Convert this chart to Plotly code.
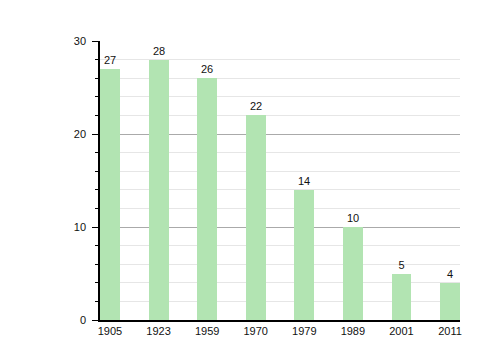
import plotly.graph_objects as go

years = ["1905", "1923", "1959", "1970", "1979", "1989", "2001", "2011"]
values = [27, 28, 26, 22, 14, 10, 5, 4]

bar_color = "#b2e4b2"
font = "Liberation Sans, Arial, sans-serif"

fig = go.Figure()
fig.add_trace(go.Bar(
    x=list(range(len(years))),
    y=values,
    width=0.41,
    marker=dict(color=bar_color, line=dict(width=0)),
    text=[str(v) for v in values],
    textposition="outside",
    textfont=dict(family=font, size=11, color="#111111"),
    cliponaxis=False,
))

fig.update_layout(
    width=500, height=360,
    margin=dict(l=92, r=48, t=33, b=48),
    paper_bgcolor="white", plot_bgcolor="white",
    showlegend=False,
    font=dict(family=font, size=11, color="#222222"),
    xaxis=dict(
        tickmode="array",
        tickvals=list(range(len(years))),
        ticktext=years,
        range=[-0.205, 7.205],
        showline=True, linecolor="black", linewidth=1.5,
        showgrid=False, ticks="", zeroline=False,
        ticklabelstandoff=0,
        tickfont=dict(family=font, size=11, color="#111111"),
    ),
    yaxis=dict(
        range=[0, 30],
        tickvals=[0, 10, 20, 30],
        showline=True, linecolor="black", linewidth=1.5,
        ticks="outside", ticklen=6, tickcolor="black", tickwidth=1,
        showgrid=True, gridcolor="#aaaaaa", gridwidth=1,
        zeroline=False,
        ticklabelstandoff=4,
        minor=dict(dtick=2, showgrid=True, gridcolor="#e6e6e6", gridwidth=1,
                   ticks="outside", ticklen=3, tickcolor="black"),
        tickfont=dict(family=font, size=11, color="#111111"),
    ),
    bargap=0,
)

fig.write_html("out.html")
